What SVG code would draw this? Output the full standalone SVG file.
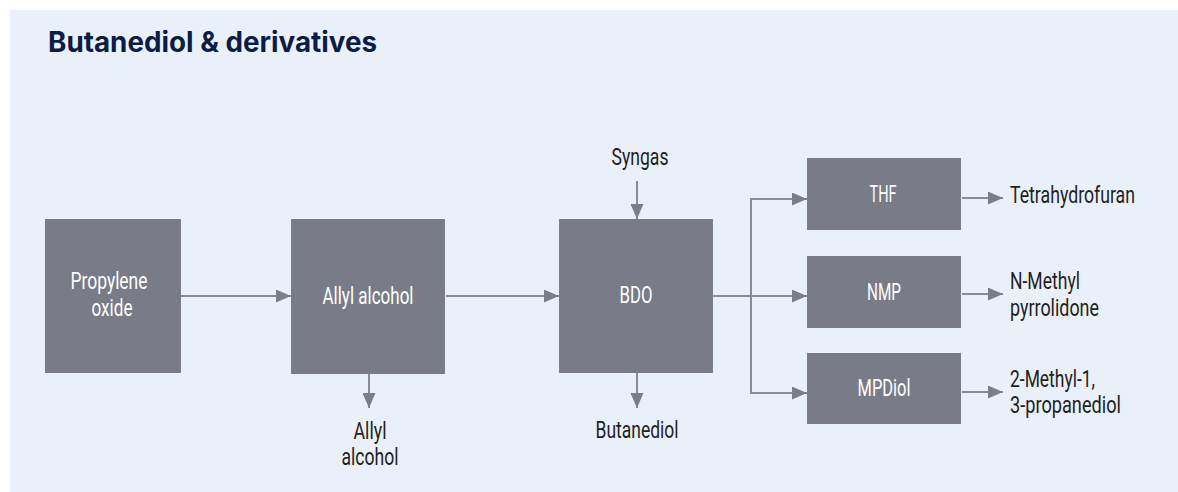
<svg xmlns="http://www.w3.org/2000/svg" width="1178" height="492" viewBox="0 0 1178 492">
  <style>
    .panel { fill: #EAF0FA; }
    .title { font-family: Inter, "Open Sans", "Liberation Sans", sans-serif; font-weight: 700; font-size: 28px; fill: #0B1D44; }
    .box { fill: #797B86; }
    .inner { font-family: Roboto, "Liberation Sans", sans-serif; font-size: 23px; fill: #FFFFFF; text-anchor: middle; }
    .outer { font-family: Roboto, "Liberation Sans", sans-serif; font-size: 23px; fill: #231F20; }
    .mid { text-anchor: middle; }
    .flow { fill: none; stroke: #888B97; stroke-width: 2; marker-end: url(#head); }
  </style>
  <defs>
    <marker id="head" markerUnits="userSpaceOnUse" markerWidth="15" markerHeight="13" refX="15" refY="6.5" orient="auto">
      <path d="M0,0 L15,6.5 L0,13 Z" fill="#7B7E89"/>
    </marker>
  </defs>

  <rect class="panel" x="10" y="10" width="1168" height="482"/>
  <text class="title" x="48" y="52" textLength="329" lengthAdjust="spacingAndGlyphs">Butanediol &amp; derivatives</text>

  <!-- process connectors -->
  <g id="connectors">
    <path class="flow" d="M181,296 H291"/>
    <path class="flow" d="M446,296 H559"/>
    <path class="flow" d="M713,296 H807"/>
    <path class="flow" d="M751,296 V199 H807"/>
    <path class="flow" d="M751,296 V393 H807"/>
    <path class="flow" d="M637,181 V219"/>
    <path class="flow" d="M369,374 V408"/>
    <path class="flow" d="M637,373 V408"/>
    <path class="flow" d="M962,198 H1003"/>
    <path class="flow" d="M962,294 H1003"/>
    <path class="flow" d="M962,392 H1003"/>
  </g>

  <g id="propylene-oxide">
    <rect class="box" x="45" y="219" width="136" height="154"/>
    <text class="inner" x="109" y="289" textLength="77" lengthAdjust="spacingAndGlyphs">Propylene</text>
    <text class="inner" x="112" y="316" textLength="41" lengthAdjust="spacingAndGlyphs">oxide</text>
  </g>

  <g id="allyl-alcohol">
    <rect class="box" x="291" y="219" width="154" height="155"/>
    <text class="inner" x="368" y="304" textLength="91" lengthAdjust="spacingAndGlyphs">Allyl alcohol</text>
  </g>

  <g id="bdo">
    <rect class="box" x="559" y="219" width="154" height="154"/>
    <text class="inner" x="636" y="303" textLength="33" lengthAdjust="spacingAndGlyphs">BDO</text>
  </g>

  <g id="thf">
    <rect class="box" x="807" y="158" width="154" height="72"/>
    <text class="inner" x="883" y="202" textLength="27" lengthAdjust="spacingAndGlyphs">THF</text>
  </g>

  <g id="nmp">
    <rect class="box" x="807" y="256" width="154" height="72"/>
    <text class="inner" x="884" y="300" textLength="34" lengthAdjust="spacingAndGlyphs">NMP</text>
  </g>

  <g id="mpdiol">
    <rect class="box" x="807" y="353" width="154" height="71"/>
    <text class="inner" x="884" y="396" textLength="53" lengthAdjust="spacingAndGlyphs">MPDiol</text>
  </g>

  <g id="syngas">
    <text class="outer mid" x="640" y="165" textLength="57" lengthAdjust="spacingAndGlyphs">Syngas</text>
  </g>

  <g id="allyl-alcohol-product">
    <text class="outer mid" x="370" y="439" textLength="33" lengthAdjust="spacingAndGlyphs">Allyl</text>
    <text class="outer mid" x="370" y="465" textLength="57" lengthAdjust="spacingAndGlyphs">alcohol</text>
  </g>

  <g id="butanediol-product">
    <text class="outer mid" x="637" y="438" textLength="83" lengthAdjust="spacingAndGlyphs">Butanediol</text>
  </g>

  <g id="tetrahydrofuran-product">
    <text class="outer" x="1010" y="203" textLength="125" lengthAdjust="spacingAndGlyphs">Tetrahydrofuran</text>
  </g>

  <g id="n-methyl-pyrrolidone-product">
    <text class="outer" x="1010" y="289" textLength="70" lengthAdjust="spacingAndGlyphs">N-Methyl</text>
    <text class="outer" x="1010" y="316" textLength="89" lengthAdjust="spacingAndGlyphs">pyrrolidone</text>
  </g>

  <g id="mpdiol-product">
    <text class="outer" x="1010" y="387" textLength="85" lengthAdjust="spacingAndGlyphs">2-Methyl-1,</text>
    <text class="outer" x="1010" y="413" textLength="111" lengthAdjust="spacingAndGlyphs">3-propanediol</text>
  </g>
</svg>
